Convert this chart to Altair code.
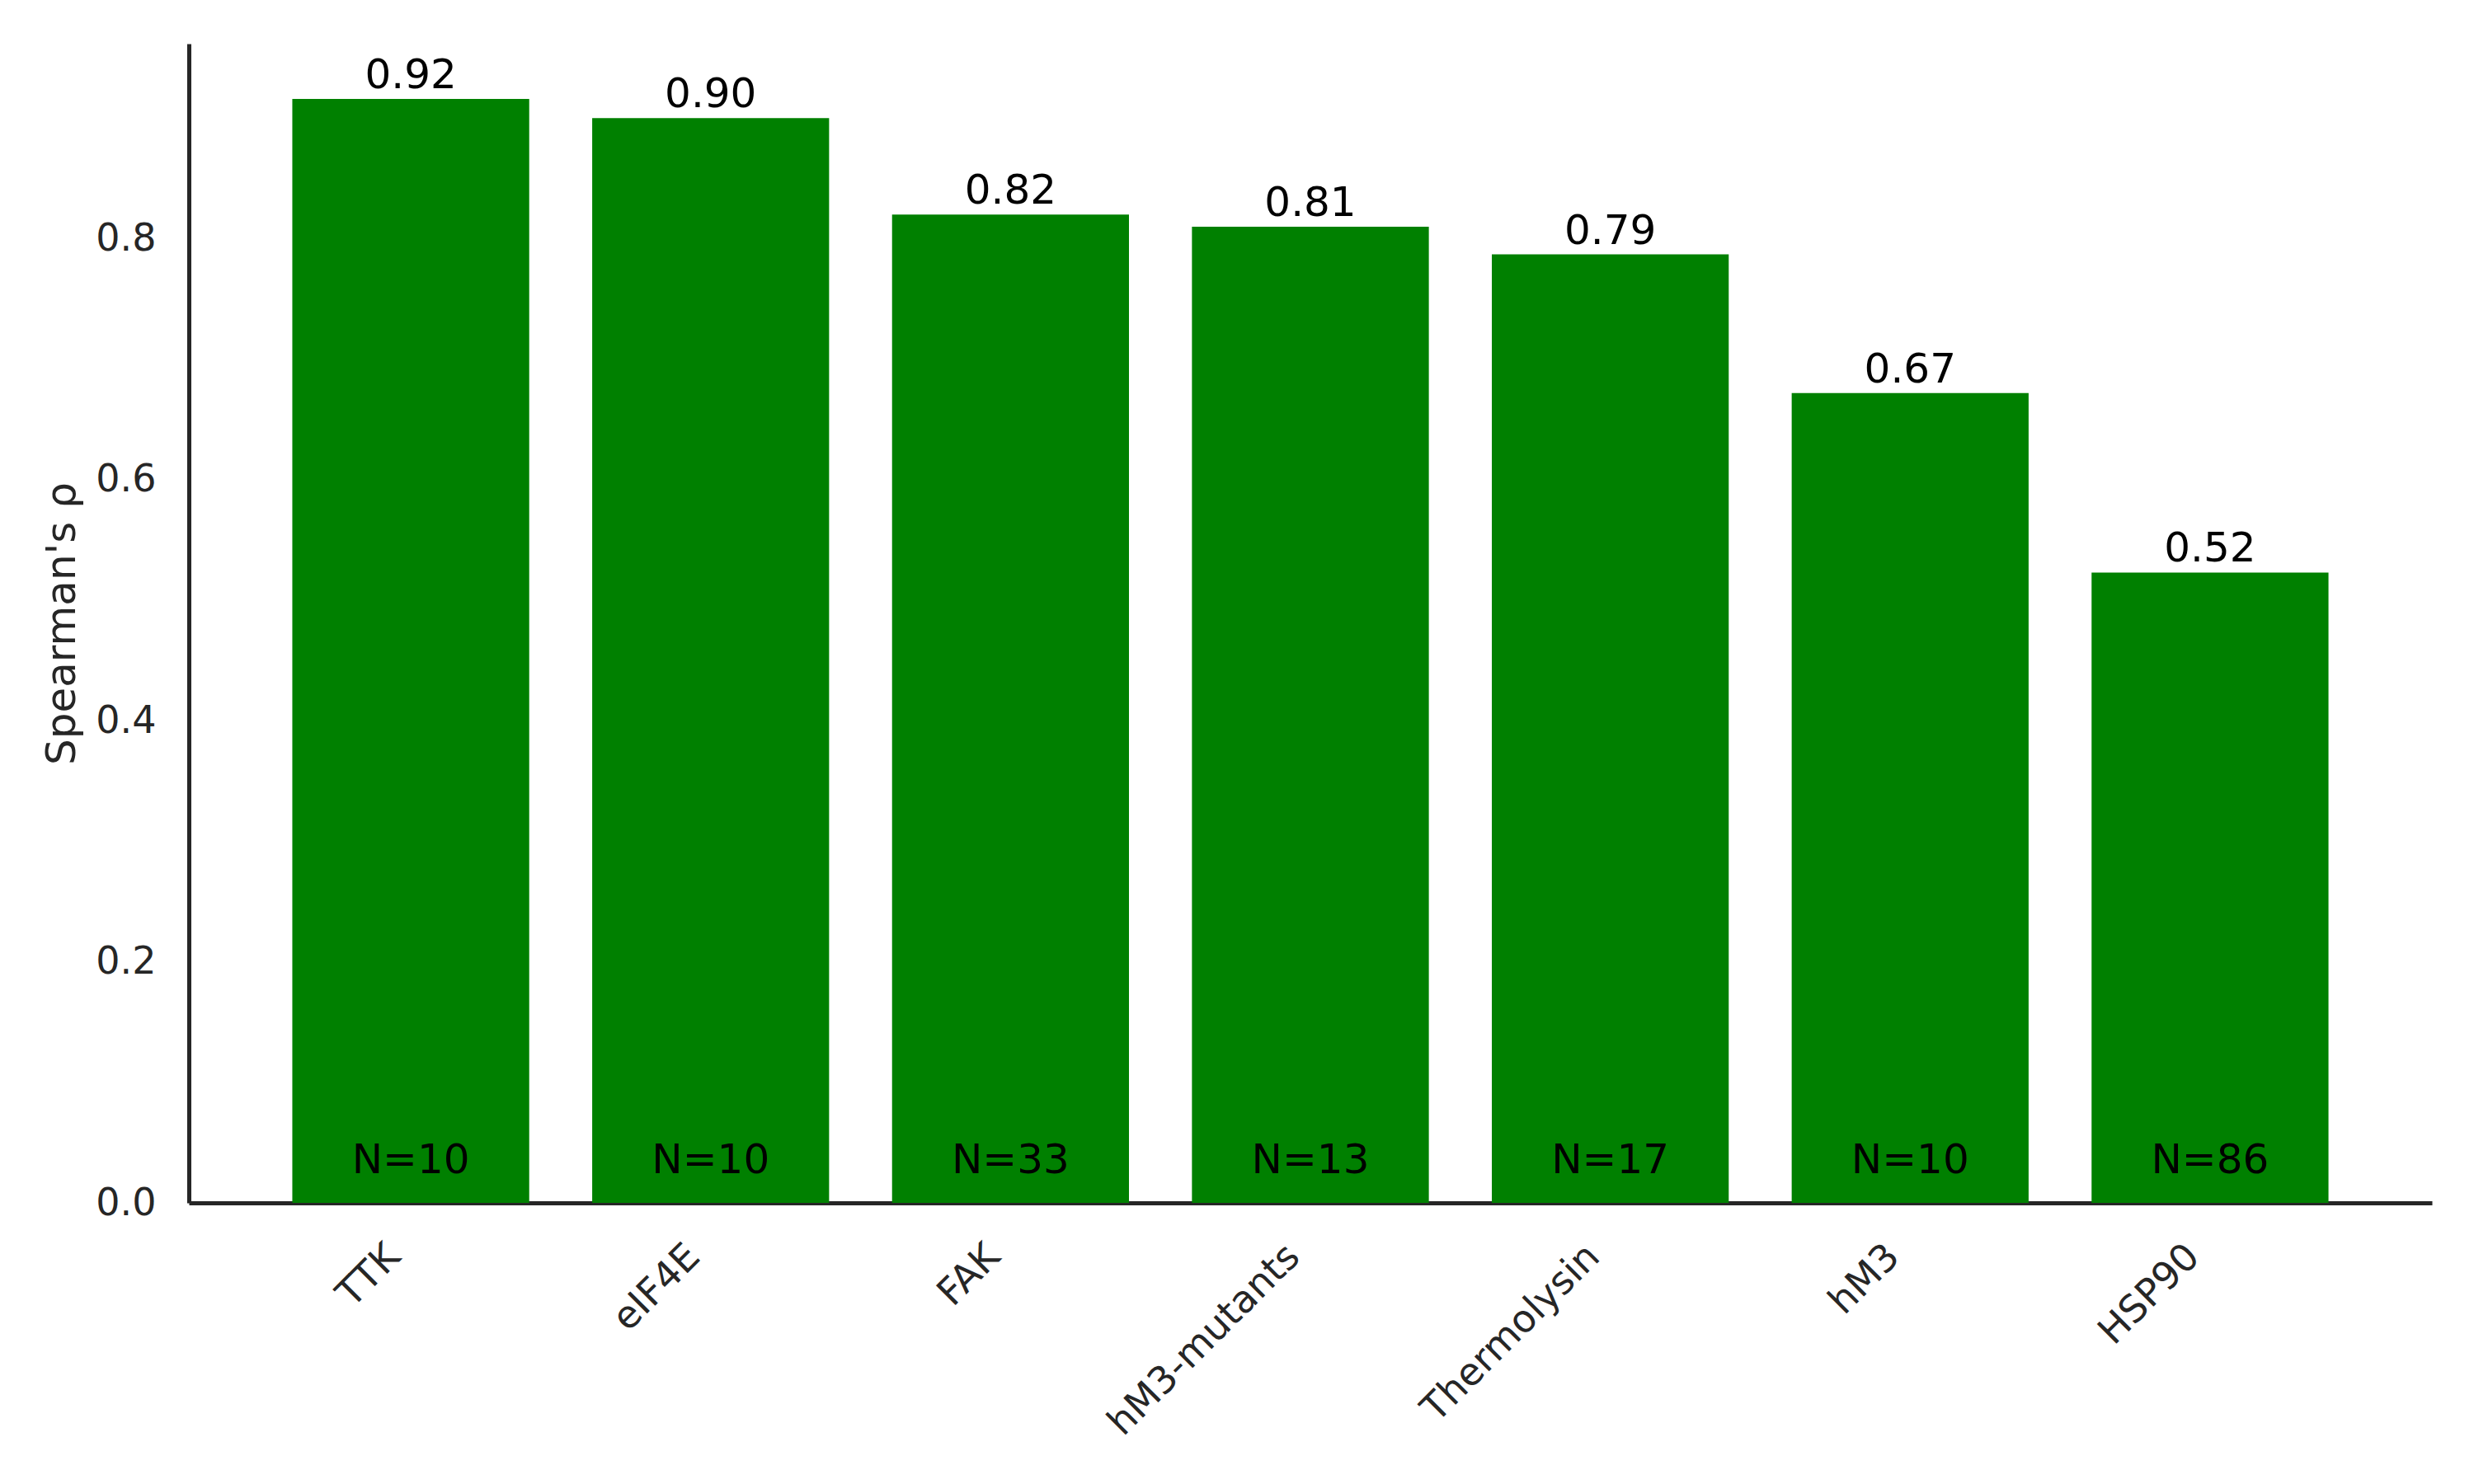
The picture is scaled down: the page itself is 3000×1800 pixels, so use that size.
import altair as alt
import pandas as pd

categories = ["TTK", "eIF4E", "FAK", "hM3-mutants", "Thermolysin", "hM3", "HSP90"]
rho_values = [0.916, 0.900, 0.820, 0.810, 0.787, 0.672, 0.523]
n_values = [10, 10, 33, 13, 17, 10, 86]
y_ticks = [0.0, 0.2, 0.4, 0.6, 0.8]

df = pd.DataFrame({
    "protein": categories,
    "rho": rho_values,
    "nlabel": [f"N={n}" for n in n_values],
})

FONT = "DejaVu Sans"
DARK = "#262626"
ymax = max(rho_values) * 1.05

xenc = alt.X(
    "protein:N",
    sort=categories,
    scale=alt.Scale(paddingInner=0.21, paddingOuter=0.345),
    axis=alt.Axis(
        title=None,
        labelAngle=315,
        labelAlign="right",
        labelBaseline="top",
        labelOffset=-36,
        labelPadding=42,
        labelFontSize=46,
        labelFont=FONT,
        labelColor=DARK,
        labelOverlap=False,
        labelLimit=0,
        ticks=False,
        tickSize=0,
        domainColor=DARK,
        domainWidth=5,
        grid=False,
    ),
)

yscale = alt.Scale(domain=[0, ymax], nice=False, zero=True)

base = alt.Chart(df).encode(x=xenc)

bars = base.mark_bar(color="#008000").encode(
    y=alt.Y(
        "rho:Q",
        scale=yscale,
        axis=alt.Axis(
            values=y_ticks,
            format=".1f",
            ticks=False,
            tickSize=0,
            labelPadding=40,
            labelFontSize=46,
            labelFont=FONT,
            labelColor=DARK,
            domainColor=DARK,
            domainWidth=5,
            grid=False,
            title="Spearman's ρ",
            titleFont=FONT,
            titleFontSize=50,
            titleFontWeight="normal",
            titleColor=DARK,
            titleAngle=270,
            titleAlign="center",
            titleBaseline="alphabetic",
            titleX=-139,
            titleY=703,
        ),
    )
)

value_labels = base.mark_text(
    baseline="alphabetic", dy=-13, fontSize=50, font=FONT, color="black"
).encode(
    y=alt.Y("rho:Q", scale=yscale),
    text=alt.Text("rho:Q", format=".2f"),
)

n_labels = base.mark_text(
    baseline="alphabetic", dy=-36, fontSize=50, font=FONT, color="black"
).encode(
    y=alt.datum(0),
    text="nlabel:N",
)

chart = (
    alt.layer(bars, value_labels, n_labels)
    .properties(
        width=2720,
        height=1406,
        autosize=alt.AutoSizeParams(type="none"),
        padding={"left": 221, "top": 45, "right": 43, "bottom": 333},
        background="white",
    )
    .configure_view(stroke=None)
)

chart.save("out.html", embed_options={"renderer": "svg", "actions": False})
